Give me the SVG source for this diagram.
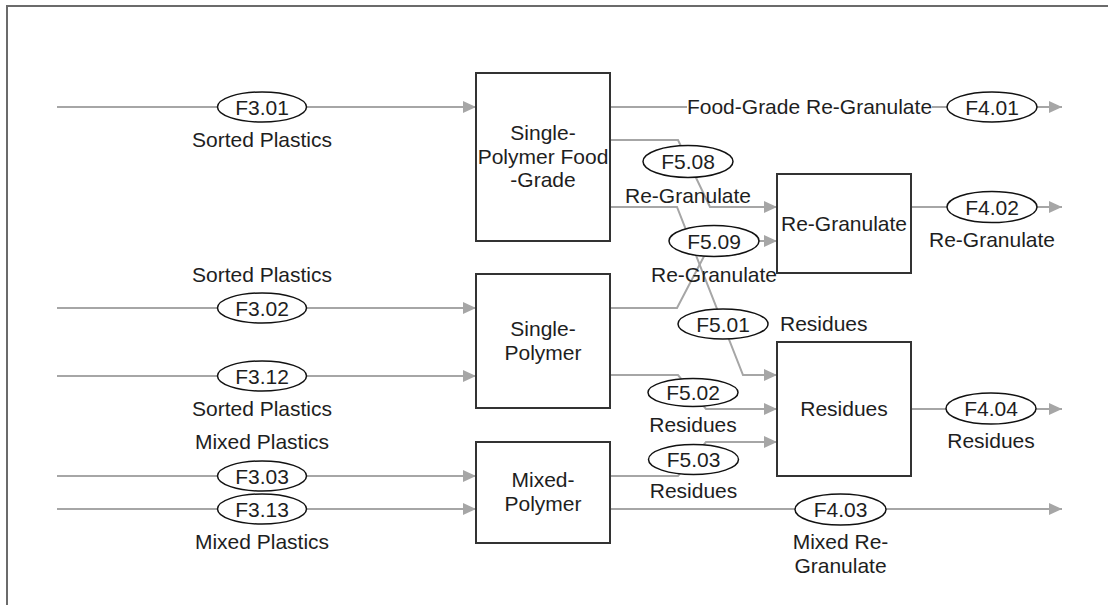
<svg xmlns="http://www.w3.org/2000/svg" width="1108" height="605" viewBox="0 0 1108 605">
<style>
.frame{fill:none;stroke:#6b6b6b;stroke-width:2}
.box{fill:#fff;stroke:#333;stroke-width:2}
.flow{fill:none;stroke:#a6a6a6;stroke-width:2;marker-end:url(#arr)}
.tag{fill:#fff;stroke:#111;stroke-width:1.5}
text{font-family:"Liberation Sans",Arial,sans-serif;font-size:21px;fill:#1e1e1e;text-anchor:middle}
.l{text-anchor:start}
</style>
<defs>
<marker id="arr" viewBox="0 0 13 12" refX="13" refY="6" markerWidth="13" markerHeight="12" markerUnits="userSpaceOnUse" orient="auto">
<path d="M0,0 L13,6 L0,12 z" fill="#a6a6a6"/>
</marker>
</defs>
<rect width="1108" height="605" fill="#fff"/>
<path class="frame" d="M7,605 V6 H1108"/>

<g id="connectors">
<path class="flow" d="M57,107 H476"/>
<path class="flow" d="M57,308 H476"/>
<path class="flow" d="M57,376 H476"/>
<path class="flow" d="M57,476 H476"/>
<path class="flow" d="M57,509 H476"/>
<path class="flow" d="M610,107 H687 M932,107 H1062"/>
<path class="flow" d="M610,140 H678 L710,207 H777"/>
<path class="flow" d="M610,308 H677 L712,241 H777"/>
<path class="flow" d="M610,207 H677 L743,375 H777"/>
<path class="flow" d="M610,375 H678 L706,409 H777"/>
<path class="flow" d="M610,476 H678 L706,442 H777"/>
<path class="flow" d="M610,509 H1062"/>
<path class="flow" d="M911,207 H1062"/>
<path class="flow" d="M911,409 H1062"/>

<g id="F3.01"><ellipse class="tag" cx="262" cy="107" rx="44.5" ry="15"/><text x="262" y="114.5">F3.01</text><text x="262" y="147">Sorted Plastics</text></g>
<g id="F3.02"><ellipse class="tag" cx="262" cy="308" rx="44.5" ry="15"/><text x="262" y="315.5">F3.02</text><text x="262" y="282">Sorted Plastics</text></g>
<g id="F3.12"><ellipse class="tag" cx="262" cy="376" rx="44.5" ry="15"/><text x="262" y="383.5">F3.12</text><text x="262" y="416">Sorted Plastics</text></g>
<g id="F3.03"><ellipse class="tag" cx="262" cy="476" rx="44.5" ry="15"/><text x="262" y="483.5">F3.03</text><text x="262" y="449">Mixed Plastics</text></g>
<g id="F3.13"><ellipse class="tag" cx="262" cy="509" rx="44.5" ry="15"/><text x="262" y="516.5">F3.13</text><text x="262" y="549">Mixed Plastics</text></g>
<g id="F4.01"><text x="809.5" y="114">Food-Grade Re-Granulate</text><ellipse class="tag" cx="992" cy="107" rx="45" ry="15"/><text x="992" y="114.5">F4.01</text></g>
<g id="F5.08"><ellipse class="tag" cx="688" cy="161.5" rx="45" ry="16"/><text x="688" y="169">F5.08</text><text x="688" y="203">Re-Granulate</text></g>
<g id="F5.09"><ellipse class="tag" cx="714" cy="241" rx="45" ry="15.5"/><text x="714" y="248.5">F5.09</text><text x="714" y="282">Re-Granulate</text></g>
<g id="F5.01"><ellipse class="tag" cx="723" cy="324" rx="45" ry="15"/><text x="723" y="331.5">F5.01</text><text class="l" x="780" y="331">Residues</text></g>
<g id="F5.02"><ellipse class="tag" cx="693" cy="392.5" rx="45" ry="14"/><text x="693" y="400">F5.02</text><text x="693" y="432">Residues</text></g>
<g id="F5.03"><ellipse class="tag" cx="693.5" cy="459.5" rx="45" ry="15"/><text x="693.5" y="467">F5.03</text><text x="693.5" y="498">Residues</text></g>
<g id="F4.02"><ellipse class="tag" cx="992" cy="207" rx="45" ry="15.5"/><text x="992" y="214.5">F4.02</text><text x="992" y="247">Re-Granulate</text></g>
<g id="F4.04"><ellipse class="tag" cx="991" cy="408.5" rx="45" ry="15.5"/><text x="991" y="416">F4.04</text><text x="991" y="448">Residues</text></g>
<g id="F4.03"><ellipse class="tag" cx="840.5" cy="509.5" rx="45.5" ry="15.5"/><text x="840.5" y="517">F4.03</text><text x="840.5" y="549">Mixed Re-</text><text x="840.5" y="573">Granulate</text></g>
</g>

<g id="single-polymer-food-grade"><rect class="box" x="476" y="73" width="134" height="168"/><text x="543" y="140">Single-</text><text x="543" y="163.5">Polymer Food</text><text x="543" y="187">-Grade</text></g>
<g id="single-polymer"><rect class="box" x="476" y="274" width="134" height="134"/><text x="543" y="336">Single-</text><text x="543" y="360">Polymer</text></g>
<g id="mixed-polymer"><rect class="box" x="476" y="442" width="134" height="101"/><text x="543" y="487">Mixed-</text><text x="543" y="511">Polymer</text></g>
<g id="re-granulate"><rect class="box" x="777" y="174" width="134" height="99"/><text x="844" y="230.5">Re-Granulate</text></g>
<g id="residues"><rect class="box" x="777" y="342" width="134" height="134"/><text x="844" y="416">Residues</text></g>
</svg>
